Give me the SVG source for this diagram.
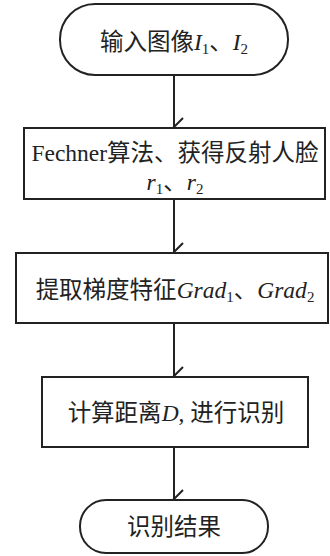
<svg xmlns="http://www.w3.org/2000/svg" width="330" height="556" viewBox="0 0 330 556">
<style>
.s{fill:#fff;stroke:#222;stroke-width:2}
.t{font-family:"Liberation Serif","Noto Sans CJK SC",serif;font-size:23.5px;fill:#222;text-anchor:middle}
.i{font-style:italic}
.sub{font-size:15px}
.c{stroke:#222;stroke-width:2;fill:none}
</style>
<defs>
<marker id="a" viewBox="0 0 20 20" refX="10" refY="18" markerWidth="20" markerHeight="20" markerUnits="userSpaceOnUse" orient="auto-start-reverse">
<path d="M1,9 L10,18 L19,9" fill="none" stroke="#222" stroke-width="2"/>
</marker>
</defs>
<rect width="330" height="556" fill="#fff"/>
<g id="connectors">
<path class="c" d="M174,75 V127" marker-end="url(#a)"/>
<path class="c" d="M174,199 V252" marker-end="url(#a)"/>
<path class="c" d="M174,323 V376" marker-end="url(#a)"/>
<path class="c" d="M174,447 V499" marker-end="url(#a)"/>
</g>
<g id="start">
<rect class="s" x="60" y="4" width="228" height="71" rx="35" ry="35"/>
<text class="t" x="174" y="50">输入图像<tspan class="i">I</tspan><tspan class="sub" dy="4">1</tspan><tspan dy="-4">、</tspan><tspan class="i">I</tspan><tspan class="sub" dy="4">2</tspan></text>
</g>
<g id="fechner">
<rect class="s" x="24" y="128" width="301" height="71"/>
<text class="t" x="175" y="161">Fechner算法、获得反射人脸</text>
<text class="t" x="175" y="190"><tspan class="i">r</tspan><tspan class="sub" dy="4">1</tspan><tspan dy="-4">、</tspan><tspan class="i">r</tspan><tspan class="sub" dy="4">2</tspan></text>
</g>
<g id="grad">
<rect class="s" x="16" y="253" width="312" height="70"/>
<text class="t" x="175" y="298">提取梯度特征<tspan class="i">Grad</tspan><tspan class="sub" dy="4">1</tspan><tspan dy="-4">、</tspan><tspan class="i">Grad</tspan><tspan class="sub" dy="4">2</tspan></text>
</g>
<g id="distance">
<rect class="s" x="42" y="377" width="266" height="70"/>
<text class="t" x="176" y="421">计算距离<tspan class="i">D</tspan>, 进行识别</text>
</g>
<g id="end">
<rect class="s" x="80" y="500" width="188" height="53" rx="26" ry="26"/>
<text class="t" x="174" y="535">识别结果</text>
</g>
</svg>
